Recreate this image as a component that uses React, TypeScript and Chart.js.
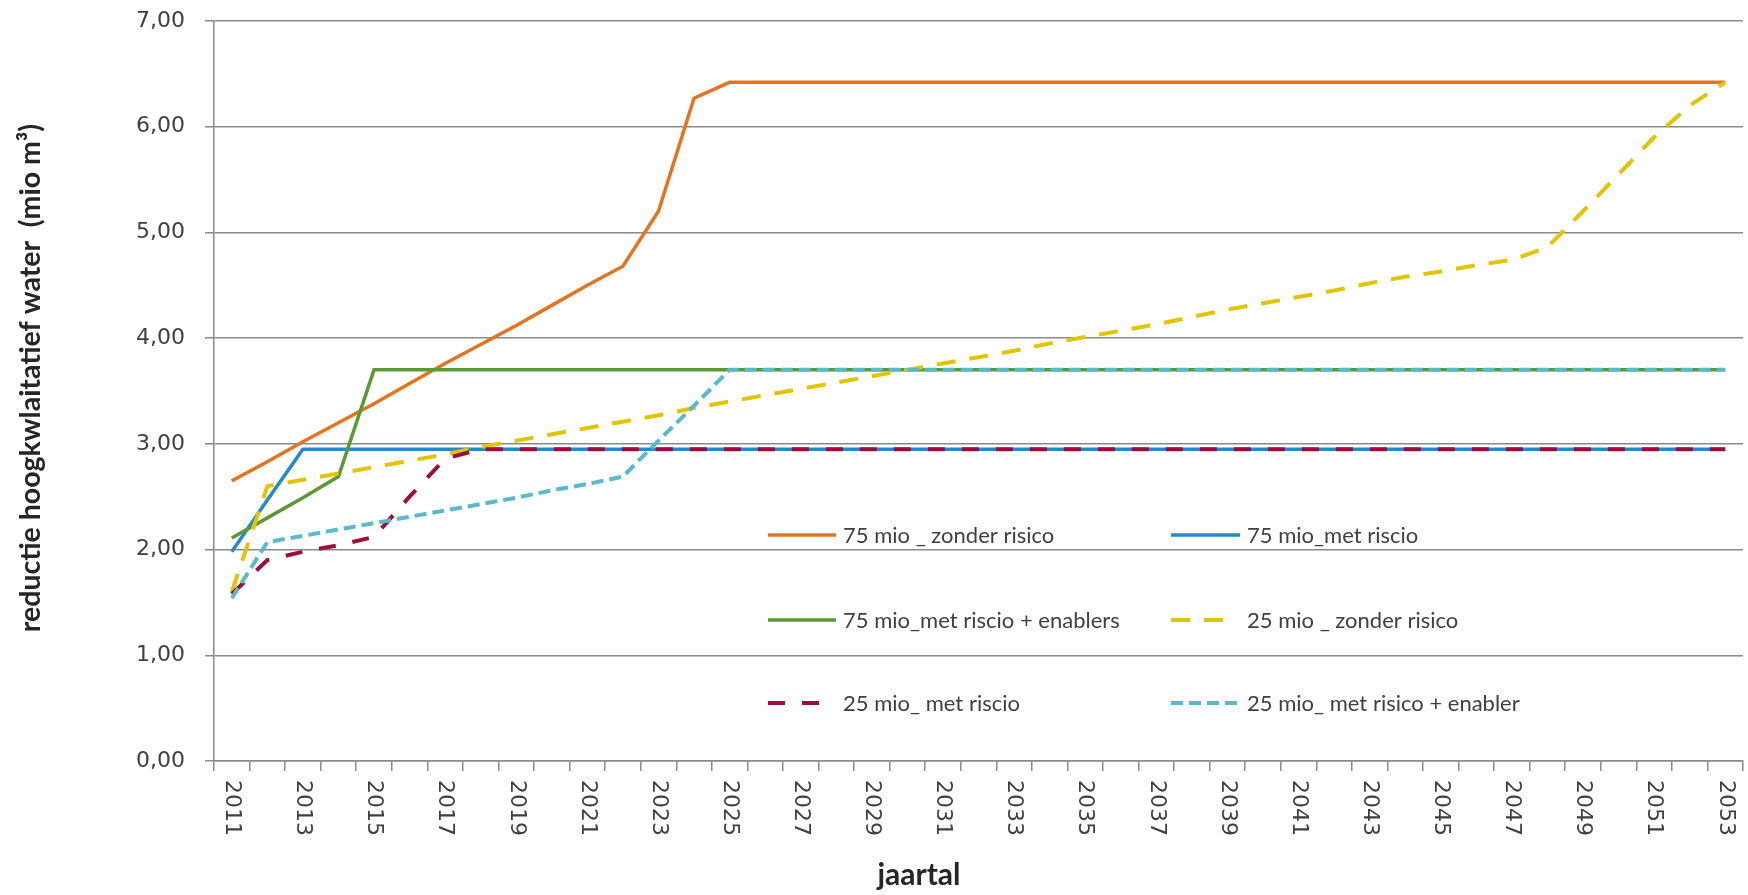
import React, { useEffect, useRef } from 'react';
import { Chart, registerables } from 'chart.js';

Chart.register(...registerables);

const YEARS = [
  '2011', '2012', '2013', '2014', '2015', '2016', '2017', '2018', '2019', '2020',
  '2021', '2022', '2023', '2024', '2025', '2026', '2027', '2028', '2029', '2030',
  '2031', '2032', '2033', '2034', '2035', '2036', '2037', '2038', '2039', '2040',
  '2041', '2042', '2043', '2044', '2045', '2046', '2047', '2048', '2049', '2050',
  '2051', '2052', '2053',
];

const X_TICK_LABELS = [
  '2011', '2013', '2015', '2017', '2019', '2021', '2023', '2025', '2027', '2029', '2031',
  '2033', '2035', '2037', '2039', '2041', '2043', '2045', '2047', '2049', '2051', '2053',
];

const Y_TICKS = [0, 1, 2, 3, 4, 5, 6, 7];

const SERIES_NAMES = [
  '75 mio _ zonder risico',
  '75 mio_met riscio',
  '75 mio_met riscio + enablers',
  '25 mio _ zonder risico',
  '25 mio_ met riscio',
  '25 mio_ met risico + enabler',
];

// 75 mio _ zonder risico
const ZONDER_75 = [
  2.65, 2.83, 3.02, 3.2, 3.38, 3.57, 3.76, 3.94, 4.12, 4.31,
  4.5, 4.68, 5.2, 6.27, 6.42, 6.42, 6.42, 6.42, 6.42, 6.42,
  6.42, 6.42, 6.42, 6.42, 6.42, 6.42, 6.42, 6.42, 6.42, 6.42,
  6.42, 6.42, 6.42, 6.42, 6.42, 6.42, 6.42, 6.42, 6.42, 6.42,
  6.42, 6.42, 6.42,
];

// 75 mio_met riscio
const MET_75 = [
  1.98, 2.47, 2.95, 2.95, 2.95, 2.95, 2.95, 2.95, 2.95, 2.95,
  2.95, 2.95, 2.95, 2.95, 2.95, 2.95, 2.95, 2.95, 2.95, 2.95,
  2.95, 2.95, 2.95, 2.95, 2.95, 2.95, 2.95, 2.95, 2.95, 2.95,
  2.95, 2.95, 2.95, 2.95, 2.95, 2.95, 2.95, 2.95, 2.95, 2.95,
  2.95, 2.95, 2.95,
];

// 75 mio_met riscio + enablers
const ENABLERS_75 = [
  2.11, 2.3, 2.49, 2.69, 3.7, 3.7, 3.7, 3.7, 3.7, 3.7,
  3.7, 3.7, 3.7, 3.7, 3.7, 3.7, 3.7, 3.7, 3.7, 3.7,
  3.7, 3.7, 3.7, 3.7, 3.7, 3.7, 3.7, 3.7, 3.7, 3.7,
  3.7, 3.7, 3.7, 3.7, 3.7, 3.7, 3.7, 3.7, 3.7, 3.7,
  3.7, 3.7, 3.7,
];

// 25 mio _ zonder risico
const ZONDER_25 = [
  1.6, 2.6, 2.66, 2.72, 2.78, 2.84, 2.9, 2.97, 3.03, 3.09,
  3.15, 3.21, 3.27, 3.34, 3.4, 3.46, 3.52, 3.58, 3.64, 3.7,
  3.76, 3.82, 3.88, 3.95, 4.01, 4.07, 4.13, 4.2, 4.27, 4.33,
  4.39, 4.45, 4.52, 4.58, 4.63, 4.69, 4.74, 4.86, 5.2, 5.55,
  5.9, 6.2, 6.42,
];

// 25 mio_ met riscio
const MET_25 = [
  1.58, 1.9, 1.98, 2.04, 2.12, 2.5, 2.86, 2.95, 2.95, 2.95,
  2.95, 2.95, 2.95, 2.95, 2.95, 2.95, 2.95, 2.95, 2.95, 2.95,
  2.95, 2.95, 2.95, 2.95, 2.95, 2.95, 2.95, 2.95, 2.95, 2.95,
  2.95, 2.95, 2.95, 2.95, 2.95, 2.95, 2.95, 2.95, 2.95, 2.95,
  2.95, 2.95, 2.95,
];

// 25 mio_ met risico + enabler
const ENABLER_25 = [
  1.54, 2.07, 2.13, 2.19, 2.25, 2.31, 2.37, 2.43, 2.49, 2.56,
  2.62, 2.69, 3.03, 3.36, 3.7, 3.7, 3.7, 3.7, 3.7, 3.7,
  3.7, 3.7, 3.7, 3.7, 3.7, 3.7, 3.7, 3.7, 3.7, 3.7,
  3.7, 3.7, 3.7, 3.7, 3.7, 3.7, 3.7, 3.7, 3.7, 3.7,
  3.7, 3.7, 3.7,
];

const SERIES_DATA = [ZONDER_75, MET_75, ENABLERS_75, ZONDER_25, MET_25, ENABLER_25];
const SERIES_COLORS = ['#E8731F', '#2589CF', '#5A9A34', '#E2C500', '#9F0E3A', '#58BACB'];
const SERIES_WIDTHS = [3.5, 3.5, 3.5, 4, 4, 4];
const SERIES_DASHES: number[][] = [[], [], [], [19, 14], [17, 17], [12, 6]];

const Y_TITLE = 'reductie hoogkwlaitatief water  (mio m³)';
const X_TITLE = 'jaartal';

export default function App() {
  const ref = useRef<HTMLCanvasElement>(null);

  useEffect(() => {
    document.body.style.margin = '0';
    const canvas = ref.current;
    if (!canvas) return;

    const textPlugin = {
      id: 'customText',
      beforeDraw(chart: any) {
        const ctx = chart.ctx;
        ctx.save();
        ctx.fillStyle = '#ffffff';
        ctx.fillRect(0, 0, chart.width, chart.height);
        ctx.restore();
      },
      afterDraw(chart: any) {
        const ctx = chart.ctx;
        const xs = chart.scales.x;
        const area = chart.chartArea;
        ctx.save();
        // x tick labels, rotated clockwise
        ctx.fillStyle = '#404040';
        ctx.font = '22px "DejaVu Sans"';
        YEARS.forEach((y, i) => {
          if (!X_TICK_LABELS.includes(y)) return;
          const px = xs.getPixelForValue(i);
          ctx.save();
          ctx.translate(px, area.bottom + 19);
          ctx.rotate(Math.PI / 2);
          ctx.textAlign = 'left';
          ctx.textBaseline = 'middle';
          ctx.fillText(y, 0, 0);
          ctx.restore();
        });

        // axis titles
        ctx.fillStyle = '#262626';
        ctx.font = 'bold 28.5px Lato';
        ctx.save();
        ctx.translate(31, 378);
        ctx.rotate(-Math.PI / 2);
        ctx.textAlign = 'center';
        ctx.textBaseline = 'middle';
        ctx.fillText(Y_TITLE, 0, 0);
        ctx.restore();

        ctx.font = 'bold 30px Lato';
        ctx.textAlign = 'center';
        ctx.textBaseline = 'alphabetic';
        ctx.fillText(X_TITLE, 919, 885);

        // legend
        const rows = [535, 620, 703];
        const cols = [{ x: 768, tx: 843 }, { x: 1171, tx: 1247 }];
        const sampleLen = [68, 69, 68, 52, 51, 68];
        ctx.font = '22px Lato';
        ctx.textAlign = 'left';
        ctx.textBaseline = 'middle';
        SERIES_NAMES.forEach((name, i) => {
          const r = Math.floor(i / 2);
          const c = cols[i % 2];
          const y = rows[r];
          ctx.save();
          ctx.strokeStyle = SERIES_COLORS[i];
          ctx.lineWidth = SERIES_WIDTHS[i];
          ctx.setLineDash(SERIES_DASHES[i]);
          ctx.beginPath();
          ctx.moveTo(c.x, y);
          ctx.lineTo(c.x + sampleLen[i], y);
          ctx.stroke();
          ctx.restore();
          ctx.fillStyle = '#404040';
          ctx.fillText(name, c.tx, y + 1);
        });
        ctx.restore();
      },
    };

    const chart = new Chart(canvas, {
      type: 'line',
      data: {
        labels: YEARS,
        datasets: SERIES_DATA.map((d, i) => ({
          label: SERIES_NAMES[i],
          data: d,
          borderColor: SERIES_COLORS[i],
          backgroundColor: SERIES_COLORS[i],
          borderWidth: SERIES_WIDTHS[i],
          borderDash: SERIES_DASHES[i],
          pointRadius: 0,
          tension: 0,
          fill: false,
          order: SERIES_DATA.length - i,
        })),
      },
      options: {
        animation: false,
        responsive: false,
        devicePixelRatio: 1,
        layout: { padding: { left: 0, top: 21, right: 5, bottom: 0 } },
        plugins: {
          legend: { display: false },
          tooltip: { enabled: false },
          title: { display: false },
        },
        scales: {
          x: {
            type: 'category',
            offset: true,
            grid: {
              display: true,
              offset: true,
              drawOnChartArea: false,
              drawTicks: true,
              tickLength: 10,
              color: '#8a8a8a',
              lineWidth: 1.5,
            },
            border: { display: true, color: '#8a8a8a', width: 1.5 },
            ticks: { display: false, autoSkip: false },
            afterFit: (s: any) => {
              s.height = 134;
              s.paddingLeft = 0;
              s.paddingRight = 0;
            },
          },
          y: {
            min: 0,
            max: 7,
            afterBuildTicks: (s: any) => { s.ticks = Y_TICKS.map((v) => ({ value: v })); },
            grid: {
              color: '#8a8a8a',
              lineWidth: 1.5,
              drawTicks: true,
              tickLength: 9,
            },
            border: { display: true, color: '#8a8a8a', width: 1.5 },
            ticks: {
              padding: 20,
              color: '#404040',
              font: { family: '"DejaVu Sans"', size: 22 },
              callback: (v: any) => Number(v).toFixed(2).replace('.', ','),
            },
            afterFit: (s: any) => {
              s.width = 214;
              s.paddingTop = 0;
              s.paddingBottom = 0;
            },
          },
        },
      },
      plugins: [textPlugin],
    } as any);

    let alive = true;
    Promise.all([
      document.fonts.load('bold 28px Lato'),
      document.fonts.load('22px Lato'),
      document.fonts.load('22px "DejaVu Sans"'),
    ]).then(() => { if (alive) chart.update(); }).catch(() => {});

    return () => { alive = false; chart.destroy(); };
  }, []);

  return (
    <div style={{ width: 1748, height: 895 }}>
      <canvas ref={ref} width={1748} height={895} style={{ display: 'block' }} />
    </div>
  );
}
